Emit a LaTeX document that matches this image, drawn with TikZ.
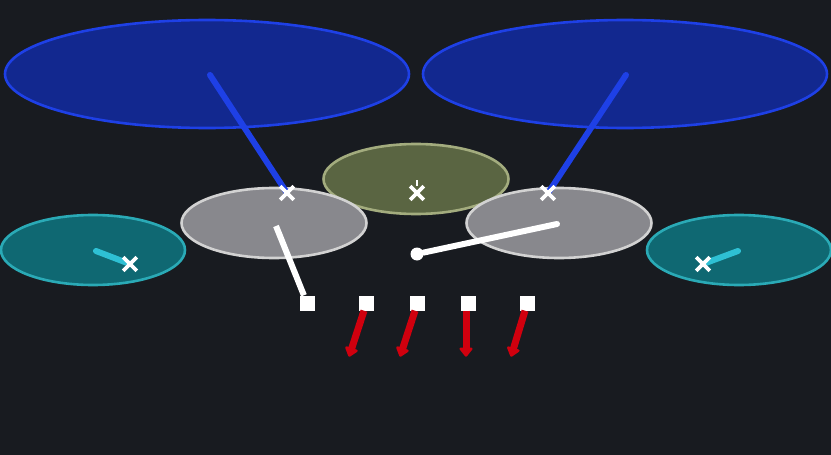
\documentclass[tikz,border=0pt]{standalone}
\usepackage{tikz}
\usepackage{xcolor}
\usetikzlibrary{calc, shapes.geometric, shapes.misc, arrows.meta, positioning}

\definecolor{bgdark}{HTML}{181B20}
\definecolor{handfill}{HTML}{12288F}
\definecolor{handline}{HTML}{1E40E6}
\definecolor{headfill}{HTML}{5A6542}
\definecolor{headline}{HTML}{A3AC7E}
\definecolor{armfill}{HTML}{88888D}
\definecolor{armline}{HTML}{D2D2D2}
\definecolor{legfill}{HTML}{0F6872}
\definecolor{legline}{HTML}{2AAAB6}
\definecolor{legbone}{HTML}{2EC0D4}
\definecolor{pullred}{HTML}{D0000E}

\tikzset{
    blob/.style={ellipse, inner sep=0pt, line width=2.6pt},
    joint/.style={cross out, draw=white, line width=3.6pt, minimum size=10pt, inner sep=0pt},
    pin/.style={rectangle, fill=white, minimum size=15pt, inner sep=0pt},
    bone/.style={line width=6pt, line cap=round},
    pull/.style={pullred, line width=7pt, -{Triangle[length=10pt, width=15pt, round]}}
}

\begin{document}
\begin{tikzpicture}[x=1pt, y=-1pt]
        \fill[bgdark] (0,0) rectangle (831,455);
        \useasboundingbox (0,0) rectangle (831,455);

        % ellipses
        \node[blob, fill=handfill, draw=handline, minimum width=404pt, minimum height=108pt] (handL) at (207,74) {};
        \node[blob, fill=handfill, draw=handline, minimum width=404pt, minimum height=108pt] (handR) at (625,74) {};
        \node[blob, fill=headfill, draw=headline, minimum width=185pt, minimum height=70pt] (head) at (416,179) {};
        \node[blob, fill=armfill, draw=armline, minimum width=185pt, minimum height=70pt] (armL) at (274,223) {};
        \node[blob, fill=armfill, draw=armline, minimum width=185pt, minimum height=70pt] (armR) at (559,223) {};
        \node[blob, fill=legfill, draw=legline, minimum width=184pt, minimum height=70pt] (legL) at (93,250) {};
        \node[blob, fill=legfill, draw=legline, minimum width=184pt, minimum height=70pt] (legR) at (739,250) {};

        % joints
        \coordinate (handLc) at (210,75);
        \coordinate (handRc) at (626,75);
        \coordinate (legLc) at (96,251);
        \coordinate (legRc) at (738,251);
        \coordinate (armLc) at (276,226);
        \coordinate (armRc) at (557,224);
        \node[circle, fill=white, minimum size=13pt, inner sep=0pt] (hip) at (417,254) {};

        \draw[bone, handline] (handLc) -- (287,193) coordinate (shoulderL);
        \draw[bone, handline] (handRc) -- (548,193) coordinate (shoulderR);
        \draw[bone, legbone] (legLc) -- (130,264) coordinate (kneeL);
        \draw[bone, legbone] (legRc) -- (703,264) coordinate (kneeR);
        \draw[bone, white] (hip) -- (armRc);

        \node[joint] (jL) at (shoulderL) {};
        \node[joint] (jR) at (shoulderR) {};
        \node[joint] (jH) at (417,193) {};
        \draw[white, line width=1.5pt] (417,180) -- (417,186);
        \node[joint] (jkL) at (kneeL) {};
        \node[joint] (jkR) at (kneeR) {};

        % pins and pulls
        \node[pin] (p0) at (307,303) {};
        \draw[bone, white, line cap=butt] (armLc) -- (p0);
        \foreach \n/\x/\dx in {1/366/-15, 2/417/-15, 3/468/0, 4/527/-14} {
            \node[pin] (p\n) at (\x,303) {};
            \draw[pull] ($(p\n.south)+(-2,0)$) -- ++(\dx,46);
        }
    \end{tikzpicture}
\end{document}
